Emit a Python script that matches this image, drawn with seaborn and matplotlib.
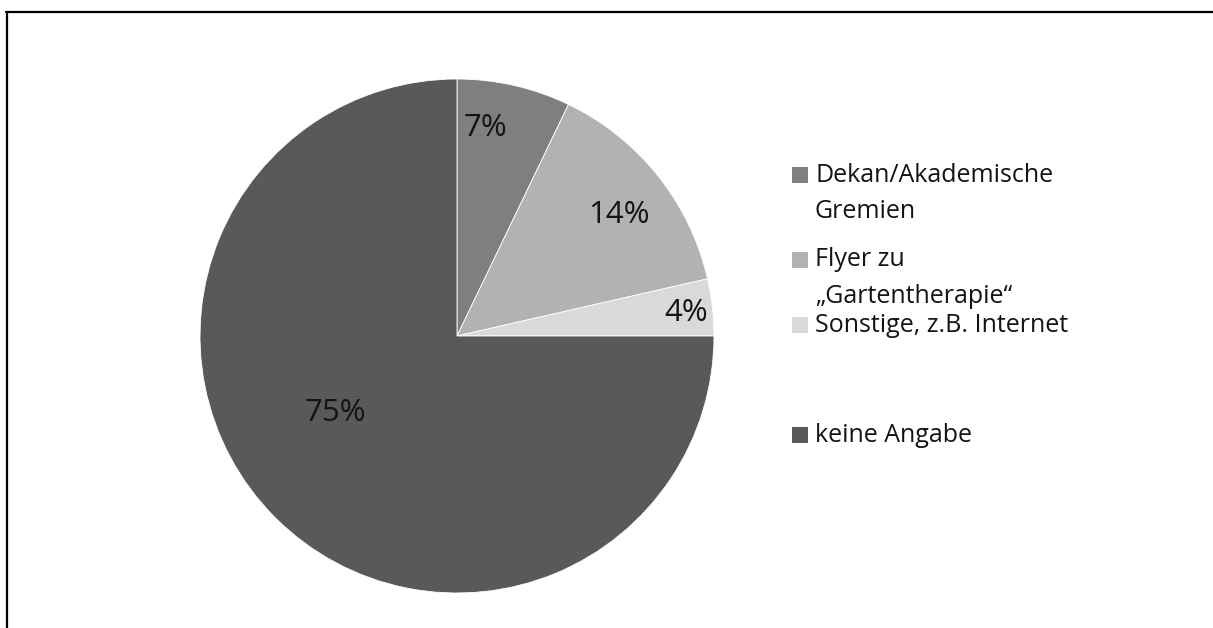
import matplotlib
matplotlib.use("Agg")
import matplotlib.pyplot as plt
import seaborn as sns
from matplotlib.lines import Line2D
from matplotlib.patches import Rectangle

# ---- data ----
categories = ["Dekan/Akademische\nGremien", "Flyer zu\n„Gartentherapie“",
              "Sonstige, z.B. Internet", "keine Angabe"]
counts = [2, 4, 1, 21]
pct_labels = ["7%", "14%", "4%", "75%"]
colors = ["#7f7f7f", "#b2b2b2", "#d9d9d9", "#595959"]

# ---- styling / layout ----
label_pos = [(0.11, 0.81), (0.63, 0.47), (0.89, 0.09), (-0.475, -0.30)]
legend_y = [175, 260, 325, 435]  # pixel rows of first text line

sns.set_theme(style="white")
plt.rcParams["font.family"] = ["Open Sans", "DejaVu Sans"]

W, H = 1213, 628
fig = plt.figure(figsize=(W / 100, H / 100), dpi=100)
fig.patch.set_facecolor("white")

cx, cy, r = 457, 336, 257
ax = fig.add_axes([(cx - r) / W, (H - cy - r) / H, 2 * r / W, 2 * r / H])
wedges, _ = ax.pie(counts, colors=colors, startangle=90, counterclock=False,
                   radius=1, wedgeprops=dict(edgecolor="white", linewidth=0.6))
ax.set_xlim(-1, 1)
ax.set_ylim(-1, 1)
ax.set_aspect("auto")
ax.axis("off")

for txt, (x, y) in zip(pct_labels, label_pos):
    ax.text(x, y, txt, ha="center", va="center", fontsize=22.5, color="#141414")

# legend (manual, Excel-like spacing)
line_h = 37
sq = 16
for cat, col, y in zip(categories, colors, legend_y):
    fig.add_artist(Rectangle((792 / W, (H - y - sq / 2) / H), sq / W, sq / H,
                             transform=fig.transFigure, facecolor=col,
                             edgecolor="none"))
    for i, line in enumerate(cat.split("\n")):
        fig.text(815 / W, (H - y - i * line_h) / H, line, ha="left",
                 va="center", fontsize=18, color="#141414")

# frame lines (top and left)
fig.add_artist(Line2D([6 / W, 1.0], [(H - 12) / H] * 2, transform=fig.transFigure,
                      color="black", linewidth=1.6))
fig.add_artist(Line2D([7 / W] * 2, [0, (H - 12) / H], transform=fig.transFigure,
                      color="black", linewidth=1.6))

fig.savefig("out.png", dpi=100, facecolor="white")
